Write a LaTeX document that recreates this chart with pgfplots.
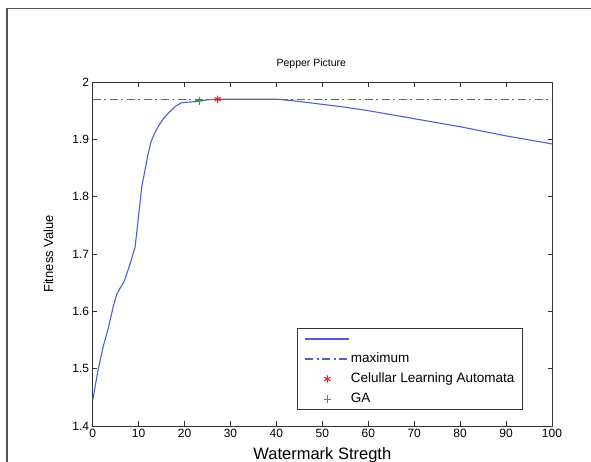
\documentclass[border=0pt]{standalone}
\usepackage{fontspec}
\setmainfont{Liberation Sans}
\usepackage{pgfplots}
\pgfplotsset{compat=1.18}
\definecolor{mblue}{RGB}{80,95,205}
\definecolor{mgreen}{RGB}{40,170,40}
\definecolor{mred}{RGB}{235,30,30}
\definecolor{frameline}{RGB}{85,85,85}

\begin{document}
\begin{tikzpicture}
\useasboundingbox (0,0) rectangle (591pt,462pt);
\draw[frameline, line width=1.3pt] (7pt,-10pt) -- (7pt,453.5pt) -- (600pt,453.5pt);
\begin{axis}[
  at={(92.7pt,36pt)}, anchor=south west,
  scale only axis,
  width=459.3pt, height=344pt,
  xmin=0, xmax=100, ymin=1.4, ymax=2,
  xtick={0,10,...,100},
  ytick={1.4,1.5,...,2.01},
  tick align=inside,
  major tick length=4.5pt,
  xtick pos=both, ytick pos=both,
  axis line style={black!80, line width=0.8pt},
  tick style={black!80, line width=0.8pt},
  font=\fontsize{12}{14}\selectfont,
  /pgf/number format/assume math mode=true,
  /pgf/number format/fixed,
  yticklabel style={/pgf/number format/precision=1},
  title={Pepper Picture},
  title style={at={(axis description cs:0.476,1.027)}, anchor=base, inner sep=0pt,
    font=\fontsize{10.5}{12}\selectfont},
  xlabel={Watermark Stregth},
  xlabel style={at={(axis description cs:0.5,-0.098)}, anchor=base, inner sep=0pt,
    font=\fontsize{16.5}{18}\selectfont},
  ylabel={Fitness Value},
  ylabel style={at={(axis description cs:-0.0864,0.5)}, rotate=0, anchor=base, inner sep=0pt,
    font=\fontsize{13}{15}\selectfont},
  legend style={at={(0.4455,0.284)}, anchor=north west, draw=black!80, line width=0.9pt,
    fill=white, inner xsep=7pt, inner ysep=3pt, row sep=5.5pt,
    nodes={text height=9.5pt, text depth=3pt, inner sep=1pt},
    font=\fontsize{13.5}{15}\selectfont},
  legend cell align=left,
  legend image code/.code={\draw[mark repeat=2,mark phase=2,#1] plot coordinates {(0pt,0pt) (22pt,0pt) (44pt,0pt)};},
]
\addplot[color=mblue, line width=1.1pt] coordinates {
(0,1.445) (1.2,1.499) (2.3,1.539) (3.4,1.571) (4.5,1.609) (5.2,1.629)
(6.0,1.641) (6.9,1.653) (8.1,1.682) (9.2,1.711) (9.7,1.745) (10.1,1.775)
(10.7,1.818) (11.4,1.847) (12.0,1.872) (12.7,1.896) (13.5,1.911) (14.3,1.923)
(15.4,1.936) (16.5,1.946) (17.9,1.957) (19.4,1.964) (21,1.965) (23,1.966)
(25,1.969) (27,1.970) (30,1.970) (35,1.970) (40,1.970) (44,1.967) (50,1.961)
(55,1.956) (60,1.950) (65,1.943) (70,1.936) (75,1.929) (80,1.922) (85,1.914)
(90,1.906) (95,1.899) (100,1.892)
};
\addlegendentry{}
\addplot[color=mblue, line width=1.1pt, dash pattern=on 8pt off 3.5pt on 2pt off 3.5pt] coordinates {(0,1.970) (100,1.970)};
\addlegendentry{maximum}
\addplot[only marks, mark=asterisk, mark size=3.6pt, color=mred,
  mark options={solid, line width=1pt}] coordinates {(27.2,1.970)};
\addlegendentry{Celullar Learning Automata}
\addplot[only marks, mark=+, mark size=3.8pt, color=mgreen,
  mark options={solid, line width=1pt}] coordinates {(23.2,1.967)};
\addlegendentry{GA}
\end{axis}
\end{tikzpicture}
\end{document}
